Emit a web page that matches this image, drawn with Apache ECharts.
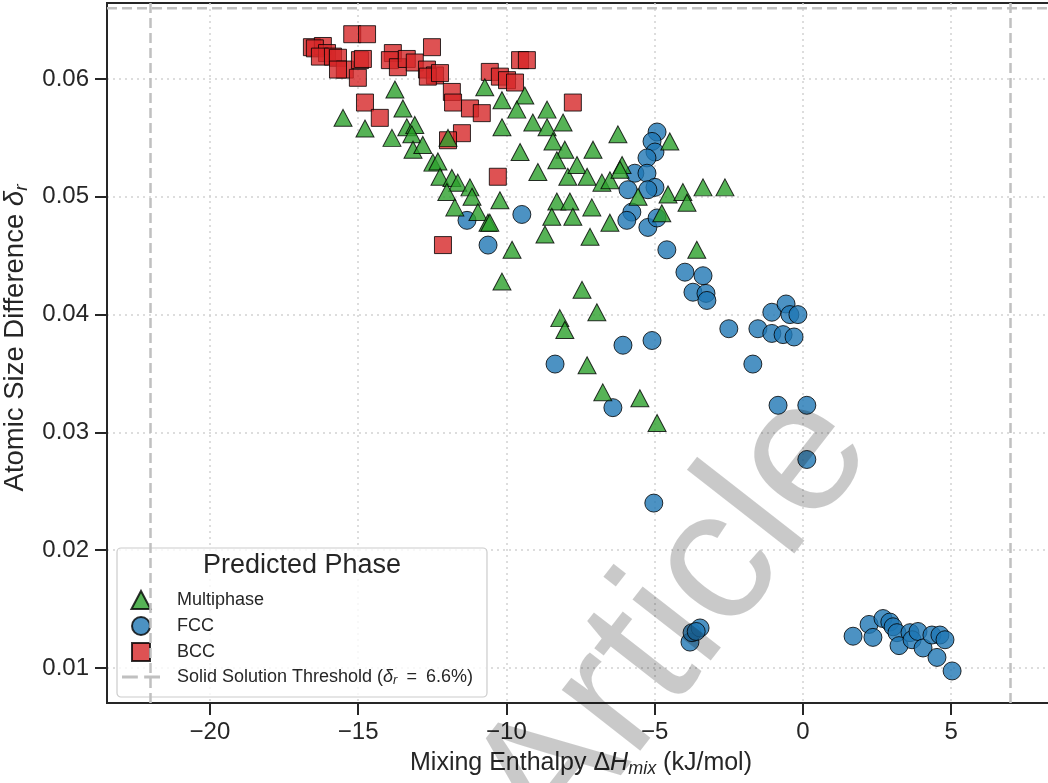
<!DOCTYPE html>
<html><head><meta charset="utf-8">
<script src="https://cdn.jsdelivr.net/npm/echarts@6/dist/echarts.min.js"></script>
<style>html,body{margin:0;padding:0;background:#fff}#c{width:1048px;height:783px}</style>
</head><body><div id="c"></div>
<script>
// ---- data ----
const multiphaseX = [-15.51,-14.77,-13.76,-13.49,-13.86,-13.36,-13.09,-13.19,-13.15,-12.82,-12.48,-12.31,-12.24,-11.84,-11.64,-12.01,-11.23,-11.16,-11.74,-10.96,-10.62,-11.97,-10.73,-10.15,-9.38,-9.65,-10.15,-9.54,-8.94,-8.63,-9.11,-8.63,-8.09,-8.43,-8.03,-8.30,-7.93,-8.30,-7.86,-8.47,-8.70,-7.76,-9.81,-7.08,-6.24,-7.62,-7.28,-6.78,-6.51,-6.10,-6.17,-10.22,-10.56,-7.12,-7.18,-6.51,-5.56,-4.49,-4.76,-4.55,-4.05,-3.91,-3.37,-2.63,-3.58,-10.15,-7.45,-6.95,-8.20,-8.03,-7.28,-6.75,-5.50,-4.92];
const multiphaseY = [0.0567,0.0558,0.0591,0.0575,0.0550,0.0559,0.0561,0.0553,0.0540,0.0544,0.0529,0.0530,0.0517,0.0516,0.0512,0.0504,0.0508,0.0500,0.0491,0.0487,0.0478,0.0550,0.0593,0.0582,0.0586,0.0574,0.0559,0.0538,0.0521,0.0574,0.0563,0.0559,0.0563,0.0547,0.0540,0.0531,0.0517,0.0496,0.0496,0.0483,0.0468,0.0483,0.0455,0.0540,0.0553,0.0527,0.0517,0.0512,0.0514,0.0527,0.0523,0.0497,0.0478,0.0491,0.0466,0.0478,0.0500,0.0547,0.0486,0.0502,0.0504,0.0495,0.0508,0.0508,0.0455,0.0428,0.0421,0.0402,0.0397,0.0387,0.0357,0.0334,0.0329,0.0308];

const fccX = [-4.92,-5.09,-4.99,-5.26,-5.67,-5.26,-4.99,-5.23,-5.90,-5.77,-5.94,-5.23,-4.92,-11.33,-9.48,-10.62,-4.59,-3.98,-3.37,-3.71,-3.27,-3.24,-2.50,-1.52,-1.05,-0.57,-0.44,-0.17,-1.05,-0.67,-0.30,-1.69,-0.84,0.13,0.13,-6.07,-5.09,-8.36,-6.41,-5.03,-3.81,-3.74,-3.47,-3.60,1.69,2.23,2.36,2.70,2.93,3.04,3.17,3.24,3.61,3.68,3.88,4.05,4.35,4.62,4.79,4.52,5.03];
const fccY = [0.0555,0.0547,0.0538,0.0533,0.0520,0.0520,0.0508,0.0506,0.0506,0.0487,0.0480,0.0474,0.0482,0.0480,0.0485,0.0459,0.0455,0.0436,0.0433,0.0419,0.0418,0.0412,0.0388,0.0388,0.0402,0.0409,0.0400,0.0400,0.0384,0.0383,0.0381,0.0358,0.0323,0.0323,0.0277,0.0374,0.0378,0.0358,0.0321,0.0240,0.0122,0.0130,0.0134,0.0131,0.0127,0.0137,0.0126,0.0142,0.0139,0.0135,0.0130,0.0119,0.0130,0.0124,0.0131,0.0117,0.0128,0.0128,0.0124,0.0109,0.00975];

const bccX = [-15.2,-14.7,-16.56,-16.19,-16.46,-16.05,-16.29,-15.85,-15.68,-15.45,-15.68,-14.94,-14.84,-15.01,-14.77,-14.27,-13.83,-13.93,-13.66,-13.36,-13.09,-12.51,-12.68,-12.41,-12.65,-12.24,-11.84,-11.80,-11.23,-10.83,-11.50,-11.97,-10.56,-10.22,-9.98,-9.71,-9.54,-9.31,-7.76,-10.29,-12.14];
const bccY = [0.0638,0.0638,0.0627,0.0628,0.0626,0.0622,0.0619,0.0619,0.0618,0.0608,0.0608,0.0616,0.0617,0.0601,0.0580,0.0567,0.0622,0.0616,0.0610,0.0617,0.0614,0.0627,0.0608,0.0603,0.0602,0.0605,0.0589,0.0580,0.0575,0.0571,0.0554,0.0548,0.0606,0.0602,0.0599,0.0597,0.0616,0.0616,0.0580,0.0517,0.0459];

const xTicks = [-20, -15, -10, -5, 0, 5];
const yTicks = [0.01, 0.02, 0.03, 0.04, 0.05, 0.06];
const xRange = [-23.47, 8.5];
const yRange = [0.00703, 0.06645];
const thresholdDelta = 0.066;
const enthalpyBounds = [-22, 7];
const phaseNames = ['Multiphase', 'FCC', 'BCC'];
const thresholdName = 'Solid Solution Threshold';
const legendTitle = 'Predicted Phase';
const watermark = 'Article';

// ---- chart ----
const FONT = "'Liberation Sans', Arial, Helvetica, sans-serif";
const INK = '#262626';
const GREY = '#c0c0c0';
const zip = (xs, ys) => xs.map((x, i) => [x, ys[i]]);
const dash = {color: GREY, width: 2.5, type: [10, 5]};
const ICONS = {
  Multiphase: 'path://M9,0L18,17L0,17Z',
  FCC: 'path://M0,9a9,9 0 1,0 18,0a9,9 0 1,0 -18,0Z',
  BCC: 'path://M0,0h17v17h-17Z'
};

const scatter = (name, xs, ys, symbol, size, color) => ({
  name, type: 'scatter', data: zip(xs, ys), symbol, symbolSize: size,
  itemStyle: {color, borderColor: '#000', borderWidth: 1, opacity: 0.8},
  emphasis: {disabled: true}
});

const chart = echarts.init(document.getElementById('c'), null, {renderer: 'canvas'});
chart.setOption({
  animation: false,
  backgroundColor: '#ffffff',
  grid: {left: 107, right: -7, top: 3, bottom: 80, show: true, borderColor: INK, borderWidth: 2,
         containLabel: false, outerBoundsMode: 'none'},
  xAxis: {
    type: 'value', min: xRange[0], max: xRange[1],
    axisLine: {show: true, onZero: false, lineStyle: {color: INK, width: 2}},
    axisTick: {show: true, length: 12, lineStyle: {color: INK, width: 2}, customValues: xTicks},
    axisLabel: {customValues: xTicks, fontSize: 24, color: INK, fontFamily: FONT, margin: 17,
      formatter: v => (v < 0 ? '\u2212' + Math.abs(v) : String(v))},
    splitLine: {show: true, lineStyle: {color: '#d2d2d2', width: 1.5, type: [2, 4]}},
    name: '{a|Mixing Enthalpy Δ}{i|H}{s|mix}{a| (kJ/mol)}',
    nameLocation: 'middle', nameGap: 45,
    nameTextStyle: {fontFamily: FONT, color: INK, fontSize: 25, rich: {
      a: {fontSize: 25, fontFamily: FONT, color: INK, lineHeight: 30},
      i: {fontSize: 25, fontFamily: FONT, color: INK, fontStyle: 'italic', lineHeight: 30},
      s: {fontSize: 18, fontFamily: FONT, color: INK, fontStyle: 'italic', lineHeight: 18, verticalAlign: 'bottom'}
    }}
  },
  yAxis: {
    type: 'value', min: yRange[0], max: yRange[1],
    axisLine: {show: true, onZero: false, lineStyle: {color: INK, width: 2}},
    axisTick: {show: true, length: 12, lineStyle: {color: INK, width: 2}, customValues: yTicks},
    axisLabel: {customValues: yTicks, fontSize: 24, color: INK, fontFamily: FONT, margin: 18,
      formatter: v => v.toFixed(2)},
    splitLine: {show: true, lineStyle: {color: '#d2d2d2', width: 1.5, type: [2, 4]}},
    name: '{a|Atomic Size Difference }{i|δ}{s|r}',
    nameLocation: 'middle', nameGap: 64, nameRotate: 90,
    nameTextStyle: {fontFamily: FONT, color: INK, fontSize: 27.5, padding: [0, 0, 0, 30], rich: {
      a: {fontSize: 27.5, fontFamily: FONT, color: INK, lineHeight: 32},
      i: {fontSize: 27.5, fontFamily: FONT, color: INK, fontStyle: 'italic', lineHeight: 32},
      s: {fontSize: 19, fontFamily: FONT, color: INK, fontStyle: 'italic', lineHeight: 19, verticalAlign: 'bottom'}
    }}
  },
  legend: {
    data: [
      ...phaseNames.map(n => ({name: n, icon: ICONS[n]})),
      {name: thresholdName, icon: 'path://M0,0h10v2h-10z M14,0h10v2h-10z',
       itemStyle: {color: GREY, borderWidth: 0, opacity: 1}}
    ],
    orient: 'vertical', left: 117, top: 548,
    padding: [42, 14, 10, 5], itemWidth: 38, itemHeight: 18, itemGap: 6, symbolKeepAspect: true,
    backgroundColor: 'rgba(255,255,255,0.8)', borderColor: '#cccccc', borderWidth: 1.2, borderRadius: 4,
    selectedMode: false,
    formatter: name => name === thresholdName
      ? '{t|Solid Solution Threshold (}{i|δ}{s|r}{t|\u2002=\u20026.6%)}'
      : '{t|' + name + '}',
    textStyle: {fontSize: 18, color: INK, fontFamily: FONT, padding: [0, 0, 0, 12], rich: {
      t: {fontSize: 18, color: INK, fontFamily: FONT, lineHeight: 20},
      i: {fontSize: 18, color: INK, fontFamily: FONT, fontStyle: 'italic', lineHeight: 20},
      s: {fontSize: 13, color: INK, fontFamily: FONT, fontStyle: 'italic', lineHeight: 13, verticalAlign: 'bottom'}
    }}
  },
  graphic: [
    {type: 'text', x: 302, y: 566, z: 100, silent: true,
     style: {text: legendTitle, fontSize: 27, fontFamily: FONT, fill: INK, align: 'center', verticalAlign: 'middle'}},
    {type: 'text', x: 675, y: 622, z: 100, silent: true, rotation: 52 * Math.PI / 180,
     style: {text: watermark, fontSize: 188, fontFamily: FONT, fill: 'rgba(0,0,0,0.21)', align: 'center', verticalAlign: 'middle'}}
  ],
  series: [
    {name: 'threshold-line', type: 'line', data: [[xRange[0], thresholdDelta], [xRange[1], thresholdDelta]],
     symbol: 'none', lineStyle: dash, z: 1, silent: true, emphasis: {disabled: true},
     markLine: {silent: true, symbol: ['none', 'none'], label: {show: false}, lineStyle: dash,
       emphasis: {disabled: true}, data: enthalpyBounds.map(v => ({xAxis: v}))}},
    {name: thresholdName, type: 'scatter', data: [], itemStyle: {color: GREY}},
    scatter('BCC', bccX, bccY, 'rect', 17, '#d62728'),
    scatter('FCC', fccX, fccY, 'circle', 18, '#1f77b4'),
    scatter('Multiphase', multiphaseX, multiphaseY, 'triangle', [18, 17], '#2ca02c')
  ]
});
</script></body></html>
